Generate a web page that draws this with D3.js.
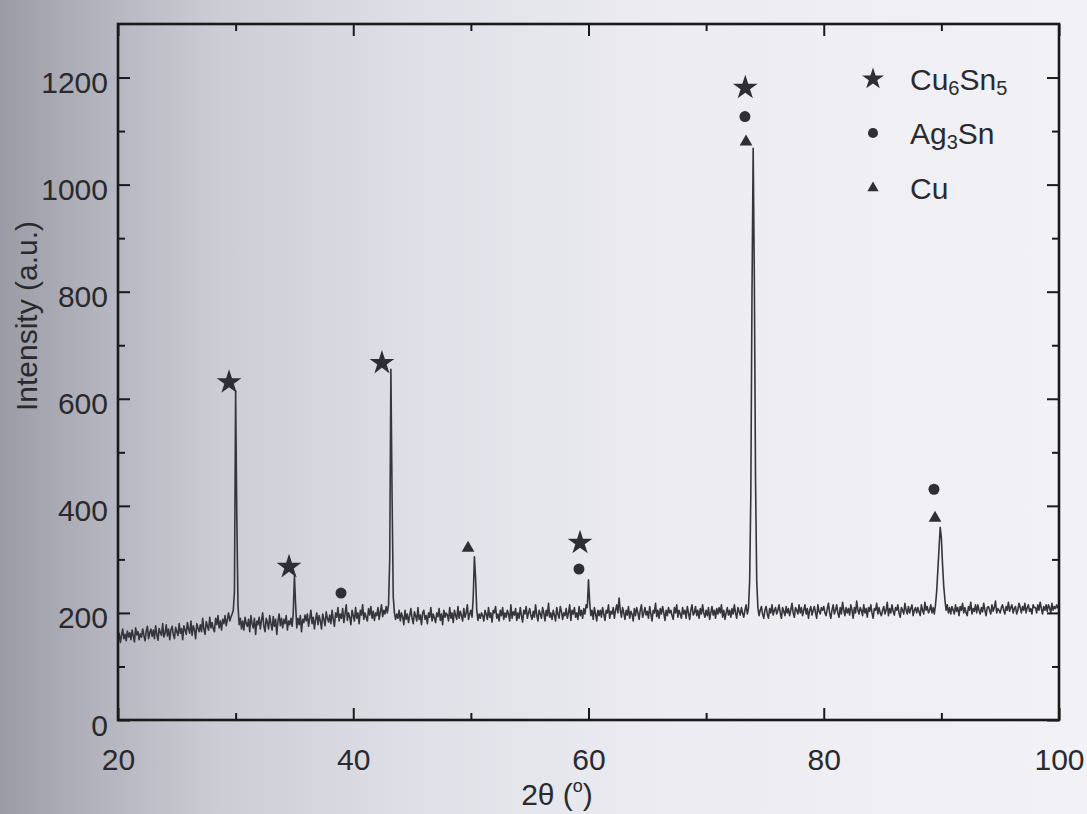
<!DOCTYPE html>
<html><head><meta charset="utf-8">
<script src="https://cdn.jsdelivr.net/npm/d3@7"></script>
<style>html,body{margin:0;padding:0;background:#e4e5ec;} svg{display:block;}</style>
</head><body><svg id="chart" width="1087" height="814"></svg>
<script>
// ---- data ----
const scanStart = 20, scanEnd = 100, scanStep = 0.1;
const intensity = [
150,162,145,158,170,152,160,148,166,155,
163,150,168,157,146,172,159,165,150,161,
155,170,158,148,166,175,152,163,170,156,
168,152,176,160,149,171,163,158,180,155,
162,178,157,170,150,168,175,160,152,173,
165,158,180,162,171,150,176,168,160,182,
170,162,185,158,176,168,152,180,172,165,
178,165,190,170,160,184,175,168,192,172,
182,170,165,190,178,195,172,185,168,188,
180,195,176,188,200,185,192,198,205,240,
615,380,215,178,190,170,185,168,192,180,
175,188,165,195,180,172,190,160,185,178,
192,170,186,200,175,165,190,182,170,195,
180,168,193,175,188,160,185,198,176,190,
172,188,180,195,168,185,178,190,175,200,
270,215,172,190,178,195,165,188,182,196,
185,198,175,190,205,180,192,170,188,200,
178,195,185,170,198,188,176,202,190,183,
196,180,205,188,175,200,192,210,185,198,
190,208,182,198,215,186,200,192,178,205,
195,185,210,190,200,180,205,196,215,188,
200,192,185,208,196,212,190,203,186,200,
195,210,188,202,215,193,205,198,212,200,
215,300,655,420,230,200,188,198,190,205,
185,200,192,178,205,188,198,182,195,208,
190,180,202,195,185,210,188,196,178,200,
205,188,195,180,200,192,210,185,198,190,
182,200,193,208,186,198,178,205,192,200,
196,185,210,190,200,182,205,195,188,212,
190,203,195,185,208,192,200,215,188,198,
205,192,230,305,265,205,186,198,190,200,
195,185,205,198,188,210,192,200,183,205,
200,212,190,198,185,205,195,210,188,200,
192,205,198,185,215,190,202,196,208,186,
200,190,210,195,183,205,198,212,190,200,
208,195,188,203,192,215,196,185,205,198,
190,210,200,185,205,195,218,192,200,188,
205,196,185,210,198,190,212,203,188,200,
195,208,190,200,215,186,205,198,210,192,
200,188,212,195,205,190,208,198,215,210,
262,220,195,205,188,210,198,185,205,195,
205,192,210,198,186,205,200,215,190,203,
198,210,190,205,215,200,228,205,192,210,
200,188,205,196,212,190,203,198,185,208,
195,210,200,188,205,215,192,200,210,196,
203,190,212,198,185,205,200,218,193,205,
190,208,198,212,200,186,205,195,210,200,
205,195,188,210,200,215,192,205,198,190,
210,198,205,190,212,200,188,205,215,196,
200,212,195,205,190,208,198,215,200,192,
205,195,210,188,200,212,196,205,190,208,
198,210,200,215,192,205,188,200,210,196,
205,192,208,198,215,200,190,210,203,196,
210,200,192,205,215,198,208,260,420,800,
1068,820,450,260,210,195,205,212,198,190,
205,212,198,190,208,200,215,196,205,210,
198,205,215,200,190,210,203,195,212,200,
208,195,205,218,200,192,210,205,198,215,
200,210,195,205,215,198,208,190,205,212,
196,205,212,200,190,215,203,198,210,205,
212,200,195,208,218,200,190,205,215,198,
205,215,200,192,210,198,220,205,195,210,
200,208,196,215,205,190,210,200,222,205,
198,210,205,195,215,200,208,192,210,203,
215,200,190,208,205,218,198,210,200,195,
205,212,198,205,220,195,208,200,215,203,
196,210,205,215,200,192,210,205,198,218,
205,198,212,200,208,215,195,205,210,200,
210,202,195,215,205,198,220,205,212,200,
205,215,200,210,198,215,240,280,320,360,
340,290,250,225,205,215,200,210,198,212,
205,198,215,203,210,195,212,205,218,200,
210,200,195,212,205,220,198,208,203,215,
200,215,205,198,210,202,218,205,195,210,
212,205,198,215,203,210,222,200,208,205,
200,210,215,205,198,212,205,220,203,210,
215,200,208,212,198,205,218,210,200,212,
205,218,200,210,215,203,208,198,215,210,
210,200,215,205,220,208,198,212,205,215,
203,215,210,200,218,205,212,208,215,210,
212];
const cu6sn5Marks = [[29.44,631],[34.54,286],[42.44,667],[59.28,331],[73.33,1181]];
const ag3snMarks  = [[38.96,237],[59.19,282],[73.30,1127],[89.37,431]];
const cuMarks     = [[49.76,321],[73.39,1080],[89.46,377]];
const xMajor = [20,40,60,80,100];
const xMinor = [30,50,70,90];
const yMajor = [0,200,400,600,800,1000,1200];
const yMinor = [100,300,500,700,900,1100];
const legendItems = [
  {shape:"star",   parts:[["Cu",0],["6",1],["Sn",0],["5",1]]},
  {shape:"circle", parts:[["Ag",0],["3",1],["Sn",0]]},
  {shape:"tri",    parts:[["Cu",0]]}
];

// ---- layout ----
const W = 1087, H = 814;
const L = 118, R = 1059, T = 24, B = 720;
const FS = 30;
const svg = d3.select("#chart");
const font = "'Liberation Sans', Arial, sans-serif";
const textColor = "#2a2a2e";

const defs = svg.append("defs");
const g1 = defs.append("linearGradient").attr("id","bg").attr("x1","0").attr("x2","1").attr("y1","0").attr("y2","0");
[["0%","#9a9ba4"],["8%","#b0b1ba"],["20%","#cbccd4"],["38%","#dfe0e7"],["60%","#ebebf1"],["100%","#f2f2f6"]]
  .forEach(([o,c])=>g1.append("stop").attr("offset",o).attr("stop-color",c));
svg.append("rect").attr("width",W).attr("height",H).attr("fill","url(#bg)");

const x = d3.scaleLinear().domain([scanStart, scanEnd]).range([L, R]);
const y = d3.scaleLinear().domain([0, 1300]).range([B, T]);

const pts = intensity.map((v,i)=>[scanStart + i*scanStep, v]);
const line = d3.line().x(d=>x(d[0])).y(d=>y(d[1]));
svg.append("path").datum(pts).attr("d",line)
  .attr("fill","none").attr("stroke","#35353b").attr("stroke-width",1.6).attr("stroke-linejoin","round");

// ---- axes ----
function styleAxis(g){ g.selectAll("path").remove(); g.selectAll("line").attr("stroke","#1a1a1a").attr("stroke-width",2); }
function styleText(g){ g.selectAll("text").attr("font-family",font).attr("font-size",FS).attr("fill",textColor); }
svg.append("g").attr("transform",`translate(0,${B})`)
  .call(d3.axisBottom(x).tickValues(xMajor).tickSizeInner(-12).tickSizeOuter(0).tickPadding(29).tickFormat(d3.format("d")))
  .call(styleAxis).call(styleText);
svg.append("g").attr("transform",`translate(0,${B})`)
  .call(d3.axisBottom(x).tickValues(xMinor).tickSizeInner(-7).tickSizeOuter(0).tickFormat(""))
  .call(styleAxis);
svg.append("g").attr("transform",`translate(0,${T})`)
  .call(d3.axisTop(x).tickValues(xMajor).tickSizeInner(-12).tickSizeOuter(0).tickFormat(""))
  .call(styleAxis);
svg.append("g").attr("transform",`translate(0,${T})`)
  .call(d3.axisTop(x).tickValues(xMinor).tickSizeInner(-7).tickSizeOuter(0).tickFormat(""))
  .call(styleAxis);
svg.append("g").attr("transform",`translate(${L},0)`)
  .call(d3.axisLeft(y).tickValues(yMajor).tickSizeInner(-12).tickSizeOuter(0).tickPadding(10).tickFormat(d3.format("d")))
  .call(styleAxis).call(styleText).call(g=>g.selectAll("text").attr("dy","0.5em"));
svg.append("g").attr("transform",`translate(${L},0)`)
  .call(d3.axisLeft(y).tickValues(yMinor).tickSizeInner(-7).tickSizeOuter(0).tickFormat(""))
  .call(styleAxis);
svg.append("g").attr("transform",`translate(${R},0)`)
  .call(d3.axisRight(y).tickValues(yMajor).tickSizeInner(-12).tickSizeOuter(0).tickFormat(""))
  .call(styleAxis);
svg.append("g").attr("transform",`translate(${R},0)`)
  .call(d3.axisRight(y).tickValues(yMinor).tickSizeInner(-7).tickSizeOuter(0).tickFormat(""))
  .call(styleAxis);
svg.append("rect").attr("x",L).attr("y",T).attr("width",R-L).attr("height",B-T)
  .attr("fill","none").attr("stroke","#1a1a1a").attr("stroke-width",2.6);

// ---- markers ----
const markColor = "#2e2e34";
function drawMarks(data, type, size){
  svg.append("g").selectAll("path").data(data).join("path")
    .attr("transform",d=>`translate(${x(d[0])},${y(d[1])})`)
    .attr("d", d3.symbol().type(type).size(size)())
    .attr("fill",markColor);
}
drawMarks(cu6sn5Marks, d3.symbolStar, 190);
drawMarks(ag3snMarks, d3.symbolCircle, 95);
drawMarks(cuMarks, d3.symbolTriangle, 70);

// ---- legend ----
const legY = [79, 133, 188];
const legShapes = {star:[d3.symbolStar,150], circle:[d3.symbolCircle,80], tri:[d3.symbolTriangle,55]};
legendItems.forEach((it,i)=>{
  const [t,s] = legShapes[it.shape];
  svg.append("path").attr("transform",`translate(873,${legY[i]})`).attr("d",d3.symbol().type(t).size(s)()).attr("fill",markColor);
  const txt = svg.append("text").attr("x",910).attr("y",legY[i]+11)
    .attr("font-family",font).attr("font-size",FS).attr("fill",textColor);
  let prevSub = false;
  it.parts.forEach(([s,sub])=>{
    const ts = txt.append("tspan").text(s).attr("font-size",sub?20:FS);
    if (sub) ts.attr("dy","5");
    else if (prevSub) ts.attr("dy","-5");
    prevSub = !!sub;
  });
});

// ---- axis titles ----
const xt = svg.append("text").attr("x",557).attr("y",805).attr("text-anchor","middle")
  .attr("font-family",font).attr("font-size",FS).attr("fill",textColor);
xt.append("tspan").text("2θ (");
xt.append("tspan").text("o").attr("font-size",18).attr("dy","-13");
xt.append("tspan").text(")").attr("dy","13");
svg.append("text").attr("transform","translate(37,316) rotate(-90)").attr("text-anchor","middle")
  .attr("font-family",font).attr("font-size",FS).attr("fill",textColor).text("Intensity (a.u.)");
</script></body></html>
